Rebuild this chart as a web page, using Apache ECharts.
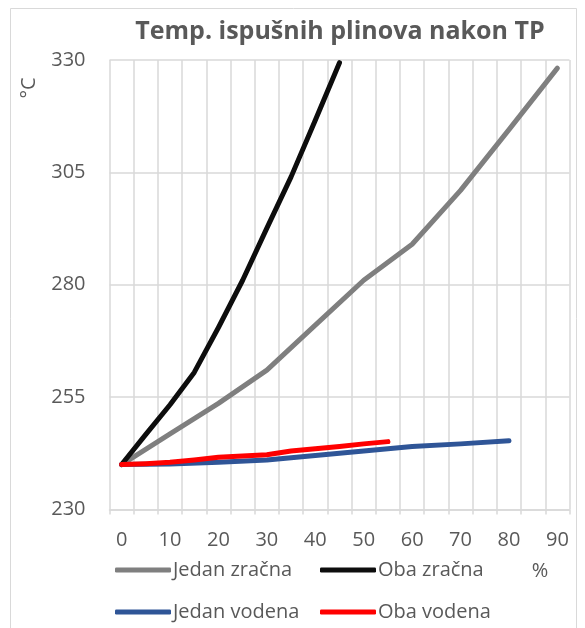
<!DOCTYPE html>
<html>
<head>
<meta charset="utf-8">
<script src="https://cdn.jsdelivr.net/npm/echarts@6/dist/echarts.min.js"></script>
<style>
html,body{margin:0;padding:0;background:#fff;}
#c{width:585px;height:628px;}
</style>
</head>
<body>
<div id="c"></div>
<script>
// categories (x axis, %)
const categories = ['0','5','10','15','20','25','30','35','40','45','50','55','60','65','70','75','80','85','90'];
const yTicks = [230, 255, 280, 305, 330];

// series values as [x category, temperature °C]
const jedanZracnaX = ['0','10','20','30','40','50','60','70','80','90'];
const jedanZracnaY = [240, 246.8, 253.6, 261, 271, 281, 289, 301, 314.5, 328.2];

const obaZracnaX = ['0','5','10','15','20','25','30','35','40','45'];
const obaZracnaY = [240, 246.7, 253.3, 260.5, 270.5, 281, 292.6, 304, 316.6, 329.4];

const jedanVodenaX = ['0','10','20','30','40','50','60','70','80'];
const jedanVodenaY = [240, 240.1, 240.5, 241, 242, 243, 244, 244.6, 245.3];

const obaVodenaX = ['0','5','10','15','20','25','30','35','40','45','50','55'];
const obaVodenaY = [240, 240.2, 240.5, 241, 241.6, 241.9, 242.2, 243, 243.5, 244, 244.6, 245.1];

const FONT = 'Open Sans';
const TXT = '#595959';
const GRID = '#d9d9d9';
const FS = 20;

function pairs(xs, ys){ return xs.map((x,i)=>[x, ys[i]]); }

function lineSeries(name, xs, ys, color){
  return {
    name: name, type: 'line', data: pairs(xs, ys),
    symbol: 'none', smooth: false,
    lineStyle: {color: color, width: 5, cap: 'round', join: 'round'},
    itemStyle: {color: color},
    emphasis: {disabled: true}
  };
}

function legendItem(name, left, top){
  return {
    left: left, top: top, itemWidth: 56, itemHeight: 5, itemGap: 0,
    icon: 'roundRect', data: [name],
    textStyle: {fontFamily: FONT, fontSize: FS, color: TXT, lineHeight: 24, padding: [0,0,0,-3]}
  };
}

const chart = echarts.init(document.getElementById('c'));
chart.setOption({
  animation: false,
  backgroundColor: '#fff',
  title: {
    text: 'Temp. ispušnih plinova nakon TP',
    left: 335, top: 14, textAlign: 'center',
    textStyle: {fontFamily: FONT, fontSize: 25, fontWeight: 'bold', color: TXT}
  },
  grid: {left: 109.5, right: 15.5, top: 60, bottom: 118.5, containLabel: false},
  xAxis: {
    type: 'category', data: categories, boundaryGap: true,
    axisLine: {show: true, lineStyle: {color: GRID, width: 1.5}},
    axisTick: {show: true, interval: 0, length: 5, lineStyle: {color: GRID, width: 1.5}},
    axisLabel: {interval: 1, margin: 21, fontFamily: FONT, fontSize: FS, color: TXT},
    splitLine: {show: true, interval: 0, lineStyle: {color: GRID, width: 1.5}}
  },
  yAxis: {
    type: 'value', min: yTicks[0], max: yTicks[yTicks.length-1], interval: 25,
    axisLine: {show: false}, axisTick: {show: false},
    axisLabel: {margin: 24, fontFamily: FONT, fontSize: FS, color: TXT},
    splitLine: {show: true, lineStyle: {color: GRID, width: 1.5}}
  },
  legend: [
    legendItem('Jedan zračna', 110, 553),
    legendItem('Oba zračna', 315, 553),
    legendItem('Jedan vodena', 110, 595),
    legendItem('Oba vodena', 315, 595)
  ],
  graphic: [
    {type: 'rect', silent: true, z: -10, shape: {x: 10.5, y: 8.5, width: 566, height: 640},
     style: {fill: 'none', stroke: GRID, lineWidth: 1}},
    {type: 'text', silent: true, x: 29, y: 88, rotation: Math.PI/2,
     style: {text: '°C', fontFamily: FONT, fontSize: FS, fill: TXT, align: 'center', verticalAlign: 'middle'}},
    {type: 'text', silent: true, x: 540, y: 571,
     style: {text: '%', fontFamily: FONT, fontSize: FS, fill: TXT, align: 'center', verticalAlign: 'middle'}}
  ],
  series: [
    lineSeries('Jedan zračna', jedanZracnaX, jedanZracnaY, '#7f7f7f'),
    lineSeries('Oba zračna', obaZracnaX, obaZracnaY, '#0d0d0d'),
    lineSeries('Jedan vodena', jedanVodenaX, jedanVodenaY, '#2f5597'),
    lineSeries('Oba vodena', obaVodenaX, obaVodenaY, '#ff0000')
  ]
});
</script>
</body>
</html>
